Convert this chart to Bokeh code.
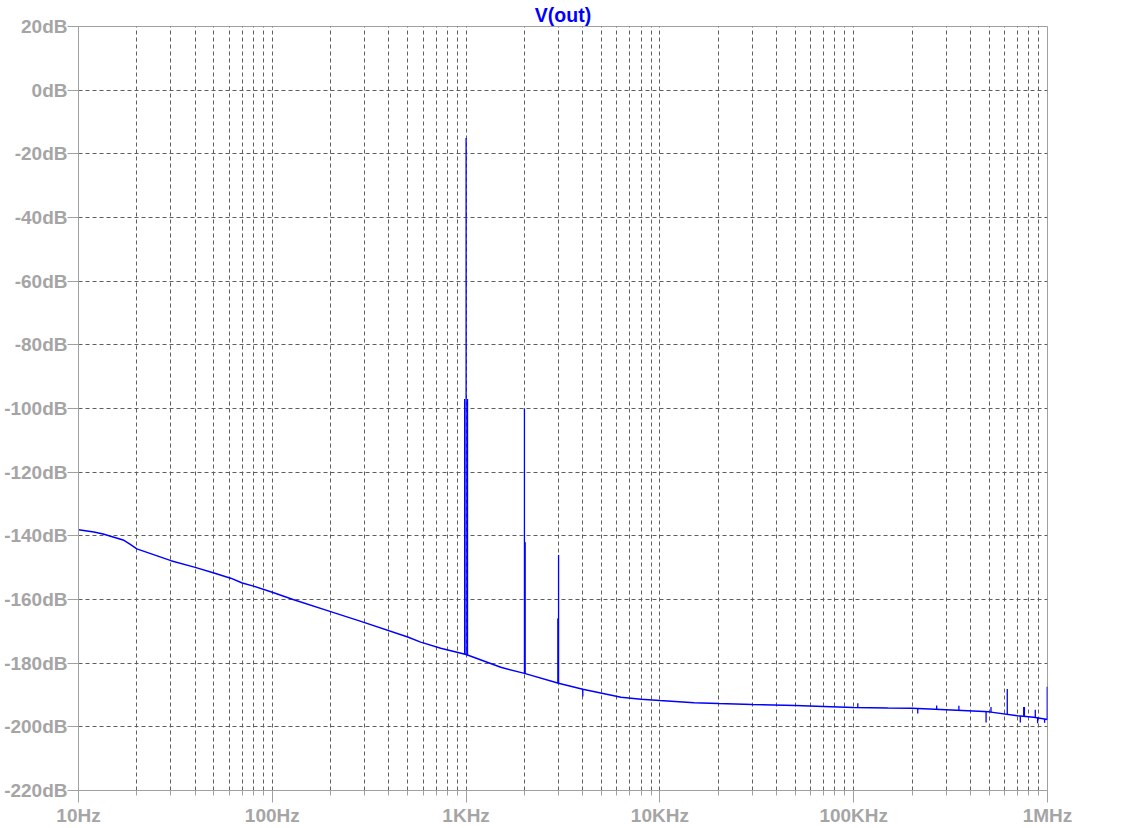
import json
from bokeh.plotting import figure
from bokeh.models import Range1d, FixedTicker, CustomJSTickFormatter
from bokeh.embed import file_html
from bokeh.resources import INLINE

# ---------------- data ----------------
title_text = "V(out)"

floor_freq = [10, 12, 13.4, 17, 18.5, 20, 30, 40, 50, 61, 70, 80, 100, 128, 200, 284,
              500, 583, 740, 1000, 1510, 2000, 3000, 4000, 6300, 8000, 10000,
              15000, 20000, 30000, 50000, 70000, 100000, 150000, 200000,
              300000, 500000, 700000, 850000, 1000000]
floor_db = [-138.1, -138.8, -139.4, -141.3, -142.7, -144.1, -147.8, -149.9, -151.7,
            -153.3, -154.8, -155.8, -157.7, -160.0, -163.8, -166.8,
            -171.8, -173.4, -175.3, -177.3, -181.3, -183.2, -186.3, -188.2,
            -190.7, -191.3, -191.7, -192.4, -192.7, -193.0, -193.3, -193.6,
            -193.9, -194.1, -194.2, -194.6, -195.3, -196.5, -197.0, -197.7]

spike_freq = [983, 1000, 1017, 2000, 2008, 2014, 2980, 2988, 3000, 4000, 105000,
              214000, 268000, 349000, 482000, 511000, 620000, 724000, 754000,
              760000, 865000, 889000, 966000, 997000]
spike_base = [-177.1, -177.3, -177.5, -183.2, -183.3, -183.3, -186.2, -186.3,
              -186.3, -188.2, -193.9, -194.2, -194.5, -194.8, -195.3, -195.4,
              -196.1, -196.6, -196.7, -196.7, -197.0, -197.1, -197.5, -197.7]
spike_peak = [-97, -15, -97, -100, -142, -142, -166, -166, -146, -190.5, -192.6,
              -195.8, -193.3, -193.4, -198.6, -193.8, -188.1, -198.6, -193.8,
              -193.8, -194.6, -198.9, -198.7, -187.4]

x_ticks = [10, 100, 1000, 10000, 100000, 1000000]
x_tick_labels = ["10Hz", "100Hz", "1KHz", "10KHz", "100KHz", "1MHz"]
x_minor_ticks = [m * d for d in [10, 100, 1000, 10000, 100000] for m in range(2, 10)]
y_ticks = [20, 0, -20, -40, -60, -80, -100, -120, -140, -160, -180, -200, -220]
y_tick_labels = ["20dB", "0dB", "-20dB", "-40dB", "-60dB", "-80dB", "-100dB",
                 "-120dB", "-140dB", "-160dB", "-180dB", "-200dB", "-220dB"]

# ---------------- styles ----------------
FONT = "Liberation Sans"
AXIS_GRAY = "#a0a0a0"
LABEL_GRAY = "#a5a5a5"
GRID = "#5f5f5f"
TRACE = "#0000ff"

p = figure(frame_width=969, frame_height=764, x_axis_type="log",
           x_range=Range1d(10, 1e6), y_range=Range1d(-220, 20),
           output_backend="svg", toolbar_location=None,
           min_border_left=78, min_border_right=73,
           min_border_top=26, min_border_bottom=38)

p.background_fill_color = "white"
p.border_fill_color = "white"
p.outline_line_color = AXIS_GRAY
p.outline_line_width = 1

# title
p.title.text = title_text
p.title.align = "center"
p.title.text_font = FONT
p.title.text_font_style = "bold"
p.title.text_font_size = "19.5px"
p.title.text_color = TRACE
p.title.standoff = 2

# trace
p.line(floor_freq, floor_db, line_color=TRACE, line_width=1.5)
p.segment(x0=spike_freq, y0=spike_base, x1=spike_freq, y1=spike_peak,
          line_color=TRACE, line_width=1.3)

# axes
xmap = {str(int(t)): l for t, l in zip(x_ticks, x_tick_labels)}
p.xaxis.ticker = FixedTicker(ticks=x_ticks, minor_ticks=x_minor_ticks)
p.xaxis.formatter = CustomJSTickFormatter(
    code="const m = %s; const k = String(Math.round(tick)); return (k in m) ? m[k] : '';" % json.dumps(xmap))
ymap = {str(int(t)): l for t, l in zip(y_ticks, y_tick_labels)}
p.yaxis.ticker = FixedTicker(ticks=y_ticks, minor_ticks=[])
p.yaxis.formatter = CustomJSTickFormatter(
    code="const m = %s; const k = String(Math.round(tick)); return (k in m) ? m[k] : '';" % json.dumps(ymap))

for ax in (p.xaxis[0], p.yaxis[0]):
    ax.axis_line_color = AXIS_GRAY
    ax.major_tick_line_color = AXIS_GRAY
    ax.minor_tick_line_color = AXIS_GRAY
    ax.major_tick_in = 0
    ax.minor_tick_in = 0
    ax.major_label_text_font = FONT
    ax.major_label_text_font_style = "bold"
    ax.major_label_text_font_size = "19px"
    ax.major_label_text_color = LABEL_GRAY

p.xaxis.major_tick_out = 12
p.xaxis.minor_tick_out = 5
p.xaxis.major_label_standoff = 2
p.yaxis.major_tick_out = 11
p.yaxis.minor_tick_out = 0
p.yaxis.major_label_standoff = 0

# grids
p.xgrid.ticker = p.xaxis.ticker
p.ygrid.ticker = p.yaxis.ticker
for g in (p.xgrid[0], p.ygrid[0]):
    g.grid_line_color = GRID
    g.grid_line_dash = "4 3"
    g.grid_line_width = 1
p.xgrid.minor_grid_line_color = GRID
p.xgrid.minor_grid_line_dash = "4 3"
p.xgrid.minor_grid_line_width = 1

open("out.html", "w").write(file_html(p, INLINE))
